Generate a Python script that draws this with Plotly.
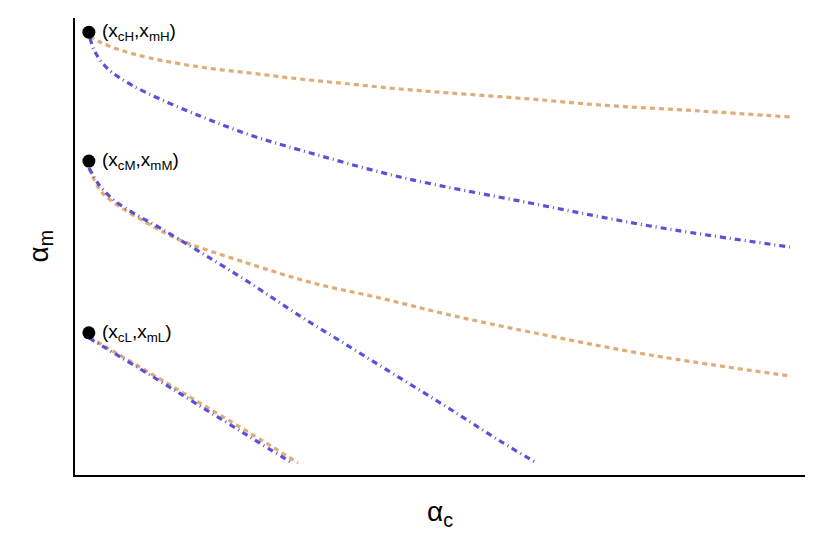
import plotly.graph_objects as go

# values (axes 0..100, no scale shown)
start_labels = ["(x<sub>cH</sub>,x<sub>mH</sub>)", "(x<sub>cM</sub>,x<sub>mM</sub>)", "(x<sub>cL</sub>,x<sub>mL</sub>)"]
start_x = [1.9, 1.9, 1.9]
start_y = [96.9, 68.7, 31.1]

h_dash_x = [2.05, 3.42, 6.16, 10.27, 17.12, 23.97, 30.82, 37.67, 44.52, 51.37, 62.33, 71.92, 85.62, 97.95]
h_dash_y = [96.06, 94.75, 93.0, 91.25, 89.28, 87.96, 86.65, 85.56, 84.46, 83.59, 82.28, 80.96, 79.65, 78.34]
h_dot_x = [2.05, 2.74, 4.11, 6.16, 9.86, 17.12, 23.97, 30.82, 44.52, 62.33, 78.77, 97.95]
h_dot_y = [95.62, 92.56, 89.5, 86.87, 83.59, 78.56, 74.4, 71.12, 65.21, 59.52, 54.49, 49.89]

m_dash_x = [1.92, 3.42, 5.21, 9.86, 14.38, 23.56, 32.6, 41.78, 51.37, 62.33, 78.77, 97.95]
m_dash_y = [67.18, 62.36, 59.74, 55.14, 51.42, 46.39, 42.01, 38.73, 35.01, 31.29, 26.26, 21.66]
m_dot_x = [1.92, 3.42, 5.48, 8.22, 11.64, 17.12, 23.97, 30.82, 37.67, 44.52, 51.37, 58.22, 63.01]
m_dot_y = [67.18, 63.24, 59.96, 57.11, 54.05, 48.8, 42.01, 34.79, 28.01, 21.23, 14.44, 7.44, 2.84]

l_dash_x = [1.92, 10.27, 17.12, 23.97, 30.55]
l_dash_y = [30.2, 22.32, 15.75, 9.19, 2.63]
l_dot_x = [1.92, 10.27, 17.12, 23.97, 29.73]
l_dot_y = [29.98, 21.88, 15.1, 8.32, 2.63]

ORANGE = "#DEAD7A"
BLUE = "#5A51D8"

fig = go.Figure()


def add_curve(x, y, color, dash):
    fig.add_trace(go.Scatter(x=x, y=y, mode="lines", line=dict(color=color, width=3.2, dash=dash, shape="spline"),
                             hoverinfo="skip"))


for xs, ys in [(h_dash_x, h_dash_y), (m_dash_x, m_dash_y), (l_dash_x, l_dash_y)]:
    add_curve(xs, ys, ORANGE, "5px,4px")
for xs, ys in [(h_dot_x, h_dot_y), (m_dot_x, m_dot_y), (l_dot_x, l_dot_y)]:
    add_curve(xs, ys, BLUE, "6px,4px,1px,4px")

fig.add_trace(go.Scatter(x=start_x, y=start_y, mode="markers", marker=dict(color="black", size=13), hoverinfo="skip"))

for x, y, txt in zip(start_x, start_y, start_labels):
    fig.add_annotation(x=x, y=y, text=txt, showarrow=False, xanchor="left", yanchor="middle",
                       xshift=11, yshift=0, font=dict(size=19, color="black"))

# axis titles as annotations so the margins stay put
fig.add_annotation(x=0.5, y=0, xref="paper", yref="paper", text="α<sub>c</sub>", showarrow=False,
                   xanchor="center", yanchor="middle", yshift=-38, font=dict(size=28, color="black"))
fig.add_annotation(x=0, y=0.5, xref="paper", yref="paper", text="α<sub>m</sub>", showarrow=False,
                   textangle=-90, xanchor="center", yanchor="middle", xshift=-35,
                   font=dict(size=28, color="black"))

axis_style = dict(showline=True, linecolor="black", linewidth=1.5, showgrid=False, zeroline=False,
                  showticklabels=False, ticks="", range=[0, 100], automargin=False)

# page body has an 8px margin, so the plot area is set 8px up and left
fig.update_layout(
    width=825, height=544,
    margin=dict(l=67, r=28, t=10, b=77),
    paper_bgcolor="white", plot_bgcolor="white",
    showlegend=False,
    font=dict(family="Liberation Sans, Arial, sans-serif", color="black"),
    xaxis=axis_style,
    yaxis=axis_style,
)

fig.write_html("out.html")
